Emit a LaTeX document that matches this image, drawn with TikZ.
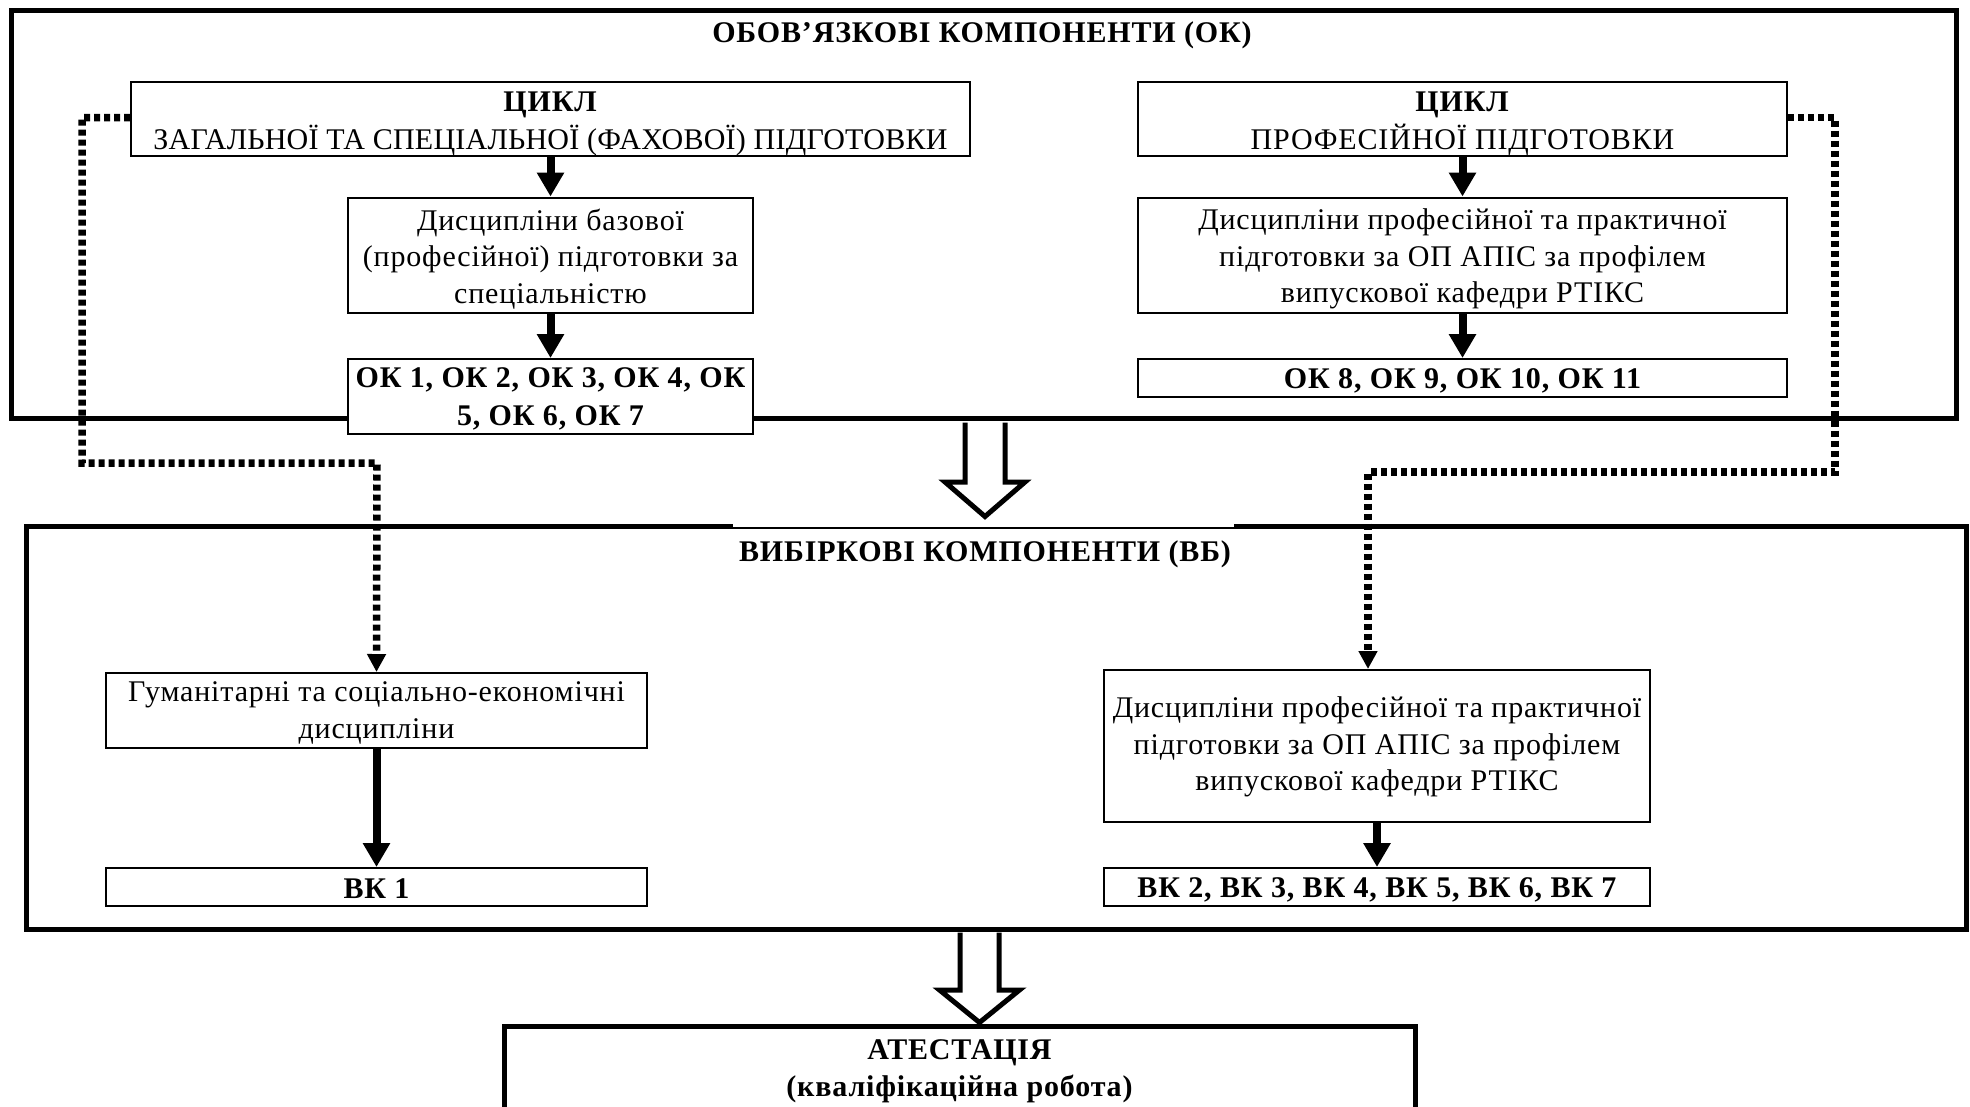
\documentclass[tikz,border=0pt]{standalone}
\usepackage{fontspec}
\setmainfont[LetterSpace=2.8]{Liberation Serif}
\newfontfamily\tightfont[LetterSpace=0.8]{Liberation Serif}
\usetikzlibrary{arrows.meta,calc}
\begin{document}
\begin{tikzpicture}[x=1pt,y=-1pt,
  every node/.style={font=\fontsize{30}{36.5}\selectfont},
  outerbox/.style={draw,line width=5pt,rectangle,inner sep=0pt},
  box/.style={draw,line width=2pt,fill=white,rectangle,inner sep=0pt},
  txt/.style={align=center,inner sep=0pt},
  boldtxt/.style={align=center,inner sep=0pt,font=\fontsize{30}{36.5}\selectfont\bfseries},
  attbox/.style={draw,line width=5pt,fill=white,rectangle,inner sep=0pt},
  solidarrow/.style={line width=8pt,-{Triangle[length=24pt,width=26pt]}},
  dotarrow/.style={line width=7.5pt,dash pattern=on 6pt off 4pt,-{Triangle[length=18pt,width=18pt]}},
  hollow/.style={draw,line width=5pt,fill=white,line join=miter}]
\useasboundingbox (0,0) rectangle (1970,1106);
\clip (0,0) rectangle (1970,1106);

% outer frames
\node[outerbox,minimum width=1945pt,minimum height=408pt] (okouter) at (983.5,214.5) {};
\node[outerbox,minimum width=1940pt,minimum height=403pt] (vbouter) at (996,728) {};
\fill[white] (733,505) rectangle (1234,526.5);

\node[boldtxt] (oktitle) at (982,35) {ОБОВ’ЯЗКОВІ КОМПОНЕНТИ (ОК)};
\node[boldtxt] (vbtitle) at (985,554) {ВИБІРКОВІ КОМПОНЕНТИ (ВБ)};

% hollow arrows
\coordinate (h1) at (985,422.5);
\draw[hollow] ($(h1)+(-20,0)$) -- ++(0,59.5) -- ++(-20,0) -- ($(h1)+(0,94)$) -- ($(h1)+(40,59.5)$) -- ++(-20,0) -- ($(h1)+(20,0)$);
\coordinate (h2) at (979.5,932.5);
\draw[hollow] ($(h2)+(-19.5,0)$) -- ++(0,57.5) -- ++(-20.5,0) -- ($(h2)+(0,90)$) -- ($(h2)+(40,57.5)$) -- ++(-20.5,0) -- ($(h2)+(19.5,0)$);

% mandatory components
\node[box,minimum width=839pt,minimum height=74pt] (cycL) at (550.5,119) {};
\node[txt,font=\fontsize{30}{38}\selectfont] (cycLt) at ($(cycL)+(0,4.5)$) {\textbf{ЦИКЛ}\\{\tightfont ЗАГАЛЬНОЇ ТА СПЕЦІАЛЬНОЇ (ФАХОВОЇ) ПІДГОТОВКИ}};
\node[box,minimum width=405pt,minimum height=115pt] (discL) at (550.5,255) {};
\node[txt] (discLt) at ($(discL)+(0,4)$) {Дисципліни базової\\(професійної) підготовки за\\спеціальністю};
\node[box,minimum width=405pt,minimum height=75pt] (okL) at (550.5,396.5) {};
\node[boldtxt,font=\fontsize{30}{38}\selectfont\bfseries] (okLt) at ($(okL)+(0,2)$) {ОК 1, ОК 2, ОК 3, ОК 4, ОК\\5, ОК 6, ОК 7};

\node[box,minimum width=649pt,minimum height=74pt] (cycR) at (1462.5,119) {};
\node[txt,font=\fontsize{30}{38}\selectfont] (cycRt) at ($(cycR)+(0,4.5)$) {\textbf{ЦИКЛ}\\ПРОФЕСІЙНОЇ ПІДГОТОВКИ};
\node[box,minimum width=649pt,minimum height=115pt] (discR) at (1462.5,255) {};
\node[txt] (discRt) at ($(discR)+(0,4)$) {Дисципліни професійної та практичної\\підготовки за ОП АПІС за профілем\\випускової кафедри РТІКС};
\node[box,minimum width=649pt,minimum height=38pt] (okR) at (1462.5,378) {};
\node[boldtxt] (okRt) at ($(okR)+(0,2.5)$) {ОК 8, ОК 9, ОК 10, ОК 11};

% elective components
\node[box,minimum width=541pt,minimum height=75pt] (gum) at (376.5,710.5) {};
\node[txt] (gumt) at ($(gum)+(0,2.5)$) {Гуманітарні та соціально-економічні\\дисципліни};
\node[box,minimum width=541pt,minimum height=38pt] (vk1) at (376.5,887) {};
\node[boldtxt] (vk1t) at ($(vk1)+(0,1.5)$) {ВК 1};
\node[box,minimum width=546pt,minimum height=152pt] (discVB) at (1377,746) {};
\node[txt] (discVBt) at ($(discVB)+(0,1)$) {Дисципліни професійної та практичної\\підготовки за ОП АПІС за профілем\\випускової кафедри РТІКС};
\node[box,minimum width=546pt,minimum height=38pt] (vk2) at (1377,887) {};
\node[boldtxt] (vk2t) at ($(vk2)+(0,3)$) {ВК 2, ВК 3, ВК 4, ВК 5, ВК 6, ВК 7};

% attestation
\node[attbox,minimum width=911pt,minimum height=84pt] (att) at (959.5,1068) {};
\node[boldtxt] (attt) at ($(att)+(0,3)$) {АТЕСТАЦІЯ\\(кваліфікаційна робота)};

% solid arrows
\draw[solidarrow] (cycL.south) -- (discL.north);
\draw[solidarrow] (discL.south) -- (okL.north);
\draw[solidarrow] (cycR.south) -- (discR.north);
\draw[solidarrow] (discR.south) -- (okR.north);
\draw[solidarrow] (gum.south) -- (vk1.north);
\draw[solidarrow] (discVB.south) -- (vk2.north);

% dotted connectors
\coordinate (l1) at (82,117.5);
\coordinate (l2) at (82,463);
\coordinate (l3) at (377,463);
\draw[dotarrow] (cycL.west |- l1) -- (l1) -- (l2) -- (l3) -- (gum.north);
\coordinate (r1) at (1835,117.5);
\coordinate (r2) at (1835,472);
\coordinate (r3) at (1368,472);
\draw[dotarrow] (cycR.east |- r1) -- (r1) -- (r2) -- (r3) -- (r3 |- discVB.north);
\end{tikzpicture}
\end{document}
